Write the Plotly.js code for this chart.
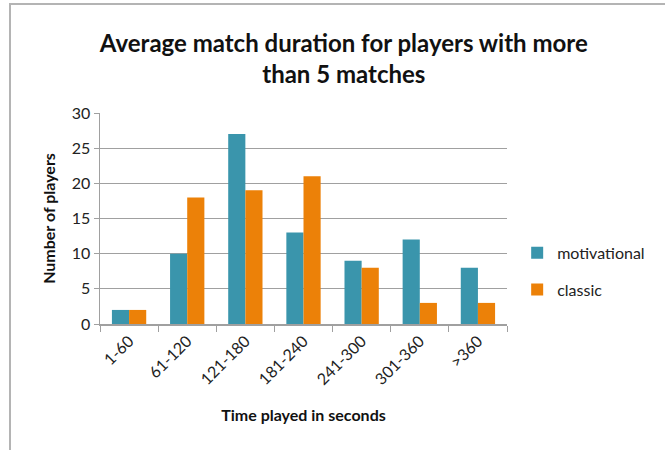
<!DOCTYPE html>
<html>
<head>
<meta charset="utf-8">
<script src="https://cdn.plot.ly/plotly-3.0.1.min.js"></script>
<style>
html,body{margin:0;padding:0;background:#fff;}
#wrap{position:relative;width:665px;height:450px;}
#chart{width:665px;height:450px;}
#frameL{position:absolute;left:9px;top:3px;width:2px;height:447px;background:#b4b4b4;}
#frameT{position:absolute;left:9px;top:3px;width:656px;height:2px;background:#b4b4b4;}
</style>
</head>
<body>
<div id="wrap">
<div id="chart"></div>
<div id="frameL"></div>
<div id="frameT"></div>
</div>
<script>
const categories = ["1-60", "61-120", "121-180", "181-240", "241-300", "301-360", ">360"];
const motivational = [2, 10, 27, 13, 9, 12, 8];
const classic = [2, 18, 19, 21, 8, 3, 3];
const yTicks = [0, 5, 10, 15, 20, 25, 30];

const FONT = "Lato, 'Open Sans', sans-serif";

const data = [
  {type: "bar", name: "motivational", x: categories, y: motivational,
   legendgroup: "m", marker: {color: "#3A95AC"}},
  {type: "bar", name: "classic", x: categories, y: classic,
   legendgroup: "c", marker: {color: "#EC8108"}}
];

const layout = {
  width: 665, height: 450,
  margin: {l: 100, r: 158, t: 113, b: 126},
  paper_bgcolor: "#fff", plot_bgcolor: "#fff",
  font: {family: FONT, color: "#222", size: 16},
  barmode: "group", bargap: 0.41, bargroupgap: 0,
  title: {text: "<b>Average match duration for players with more<br>than 5 matches</b>",
          font: {family: FONT, size: 24, color: "#111"},
          x: 0.517, xanchor: "center", y: 0.885, yanchor: "middle"},
  xaxis: {
    type: "category", tickangle: -45, tickson: "boundaries",
    ticks: "outside", ticklen: 6, tickcolor: "#a0a0a0",
    showline: true, linecolor: "#a0a0a0", linewidth: 1.5,
    showgrid: false, tickfont: {family: FONT, size: 16, color: "#222"},
    title: {text: "<b>Time played in seconds</b>", font: {family: FONT, size: 16, color: "#111"}, standoff: 22}
  },
  yaxis: {
    range: [0, 30], tickvals: yTicks, ticks: "outside", ticklen: 5, tickcolor: "#a0a0a0",
    showline: true, linecolor: "#a0a0a0", linewidth: 1.5,
    showgrid: true, gridcolor: "#a0a0a0", gridwidth: 1.2, zeroline: false,
    tickfont: {family: FONT, size: 16, color: "#222"},
    title: {text: "<b>Number of players</b>", font: {family: FONT, size: 16, color: "#111"}, standoff: 12}
  },
  legend: {x: 1.025, y: 0.25, xanchor: "left", yanchor: "middle",
           traceorder: "grouped",
           font: {family: FONT, size: 16, color: "#222"},
           itemwidth: 30, tracegroupgap: 13, bgcolor: "rgba(0,0,0,0)"}
};

Plotly.newPlot("chart", data, layout, {displayModeBar: false, staticPlot: true});
</script>
</body>
</html>
